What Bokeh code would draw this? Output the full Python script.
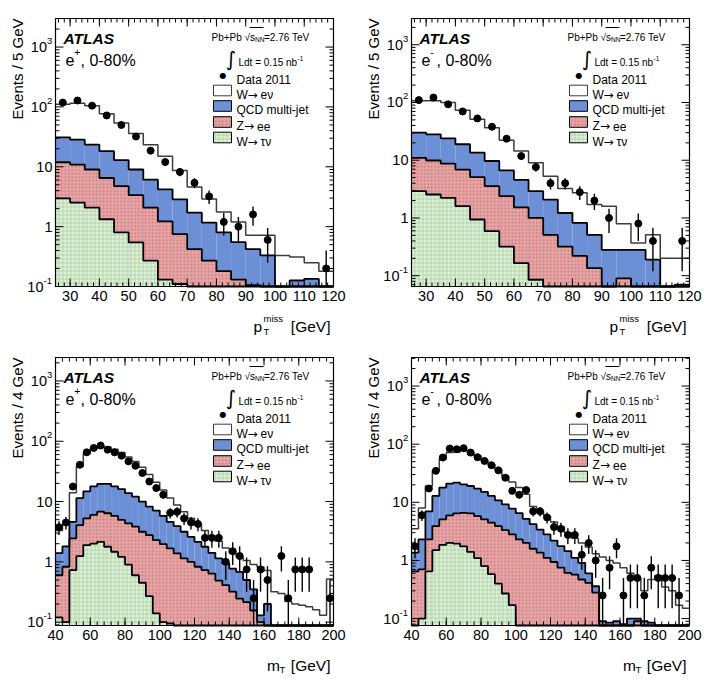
import numpy as np
from bokeh.plotting import figure
from bokeh.layouts import gridplot
from bokeh.models import Range1d, Label, BoxAnnotation
from bokeh.core.properties import value
from bokeh.embed import file_html
from bokeh.resources import INLINE

FONT = "Liberation Sans"

# ---------------- binning ----------------
met_edges = list(range(25, 121, 5))   # missing pT, 5 GeV bins
mt_edges = list(range(40, 201, 4))    # transverse mass, 4 GeV bins

met_major = list(range(30, 121, 10))
met_minor = list(range(26, 121, 2))
mt_major = list(range(40, 201, 20))
mt_minor = list(range(40, 201, 4))

# ---------------- e+ , missing pT ----------------
metp_data = [118, 128, 105, 72, 50, 32, 18.6, 12, 8.2, 5.4, 3.2, 1.2, 1.0, 1.6, 0.6, 0, 0, 0, 0.2]
metp_err = [4.86, 5.06, 4.58, 3.79, 3.16, 2.53, 1.93, 1.55, 1.28, 1.04, 0.8, 0.49, 0.45, 0.57, 0.35, 0, 0, 0, 0.2]
# stacked expectation: W->tau nu | + Z->ee | + QCD | + W->e nu
metp_tau = [2.97, 2.52, 2.08, 1.33, 0.80, 0.545, 0.27, 0.13, 0.11, 0, 0, 0, 0, 0, 0, 0, 0, 0, 0]
metp_zee = [11.9, 10.9, 9.0, 6.5, 4.76, 3.37, 2.08, 1.22, 0.75, 0.42, 0.27, 0.18, 0.13, 0.105, 0, 0, 0, 0, 0]
metp_qcd = [31, 28.4, 23.4, 18.2, 12.9, 9.0, 6.1, 4.2, 2.86, 1.72, 1.17, 0.8, 0.55, 0.42, 0.33, 0, 0.126, 0.134, 0]
metp_tot = [111, 115, 105, 77, 54, 36, 23.4, 15, 8.7, 4.6, 2.9, 1.75, 1.2, 0.72, 0.72, 0.33, 0.31, 0.25, 0.18]

# ---------------- e- , missing pT ----------------
metm_data = [110, 122, 93, 70, 53, 38, 23.6, 11.8, 7.6, 4.0, 4.0, 2.8, 2.0, 1.0, 0, 0.8, 0.4, 0, 0.4]
metm_err = [4.69, 4.94, 4.31, 3.74, 3.26, 2.76, 2.17, 1.54, 1.23, 0.89, 0.89, 0.75, 0.63, 0.45, 0, 0.4, 0.28, 0, 0.28]
metm_tau = [2.91, 2.55, 2.23, 1.6, 0.94, 0.59, 0.32, 0.165, 0.085, 0, 0, 0, 0, 0, 0, 0, 0, 0, 0]
metm_zee = [11.0, 9.9, 8.7, 6.9, 5.1, 3.55, 2.38, 1.53, 1.0, 0.51, 0.32, 0.22, 0.135, 0, 0.09, 0, 0, 0, 0]
metm_qcd = [30.1, 28.1, 24.0, 18.9, 13.5, 9.7, 6.65, 4.58, 2.91, 2.08, 1.22, 0.82, 0.51, 0.28, 0.28, 0.28, 0.19, 0, 0.07]
metm_tot = [107, 107, 100, 73.6, 51.3, 36.7, 22.1, 14.4, 9.05, 5.3, 3.24, 2.72, 1.71, 1.6, 0.79, 0.37, 0.51, 0.2, 0.2]

# ---------------- e+ , transverse mass ----------------
mtp_data = [3.75, 4.5, 17.75, 40.75, 65.5, 77.5, 85, 72.5, 65.5, 57.75,
            46.5, 39.25, 29.75, 21.5, 16.75, 13, 6.5, 6.75, 5.25, 4.5,
            4.25, 2.5, 2.5, 2.5, 1.0, 1.5, 1.25, 0.75, 0.25, 0.75,
            0.5, 0, 1.25, 0.25, 0.75, 0.75, 0.75, 0, 0, 0.25]
mtp_err = [0.97, 1.06, 2.11, 3.19, 4.05, 4.4, 4.61, 4.26, 4.05, 3.8,
           3.41, 3.13, 2.73, 2.32, 2.05, 1.8, 1.27, 1.3, 1.15, 1.06,
           1.03, 0.79, 0.79, 0.79, 0.5, 0.61, 0.56, 0.43, 0.25, 0.43,
           0.35, 0, 0.56, 0.25, 0.43, 0.43, 0.43, 0, 0, 0.25]
mtp_tau = [0.12, 0.1, 0.73, 1.24, 1.9, 2.0, 2.15, 1.78, 1.47, 1.21,
           0.9, 0.6, 0.45, 0.27, 0.14, 0.1, 0.095, 0, 0, 0,
           0, 0, 0, 0, 0, 0, 0, 0, 0, 0,
           0, 0, 0, 0, 0, 0, 0, 0, 0, 0]
mtp_zee = [0.6, 0.83, 2.45, 4.08, 5.28, 6.0, 6.8, 6.4, 5.77, 4.95,
           4.35, 3.83, 3.16, 2.78, 2.3, 1.97, 1.67, 1.38, 1.14, 1.0,
           0.83, 0.73, 0.64, 0.49, 0.41, 0.32, 0.245, 0.215, 0.156, 0.1,
           0, 0, 0, 0, 0, 0, 0, 0, 0, 0]
mtp_qcd = [1.4, 1.8, 4.6, 11.4, 14.7, 17.8, 19.7, 19.7, 17.8, 16.1,
           13.8, 12.1, 10, 8.25, 7.1, 5.8, 4.6, 3.9, 3.16, 2.6,
           2.15, 1.78, 1.41, 1.14, 0.94, 0.77, 0.68, 0.5, 0.35, 0.13,
           0.2, 0, 0, 0, 0, 0, 0, 0, 0, 0]
mtp_tot = [3.3, 4.3, 14, 38, 62, 75, 82, 80, 74, 65,
           55, 46, 37, 28, 21, 15.5, 11.5, 8.8, 6.8, 5.3,
           4.2, 3.3, 2.7, 2.2, 1.7, 1.4, 1.2, 1.05, 0.9, 0.82,
           0.72, 0.32, 0.3, 0.22, 0.2, 0.19, 0.18, 0.16, 0.13, 0.52]

# ---------------- e- , transverse mass ----------------
mtm_data = [1.75, 6.0, 17.25, 34.75, 59, 84.25, 82, 85.25, 71.75, 59.75,
            51.5, 43.5, 35.5, 26.5, 15.75, 13.5, 16.25, 7.0, 7.0, 5.5,
            3.75, 3.5, 2.75, 2.75, 1.25, 2.0, 1.0, 0.25, 0.75, 1.75,
            0.25, 0.5, 0.5, 0.25, 0.75, 0.5, 0.5, 0.5, 0.25, 0]
mtm_err = [0.66, 1.22, 2.08, 2.95, 3.84, 4.59, 4.53, 4.62, 4.24, 3.86,
           3.59, 3.3, 2.98, 2.57, 1.98, 1.84, 2.02, 1.32, 1.32, 1.17,
           0.97, 0.94, 0.83, 0.83, 0.56, 0.71, 0.5, 0.25, 0.43, 0.66,
           0.25, 0.35, 0.35, 0.25, 0.43, 0.35, 0.35, 0.35, 0.25, 0]
mtm_tau = [0, 0.1, 0.65, 1.5, 1.85, 2.0, 1.95, 1.75, 1.4, 1.1,
           0.8, 0.58, 0.4, 0.27, 0.17, 0, 0, 0, 0, 0,
           0, 0, 0, 0, 0, 0, 0, 0, 0, 0,
           0, 0, 0, 0, 0, 0, 0, 0, 0, 0]
mtm_zee = [0.65, 0.7, 2.3, 3.9, 5.1, 5.97, 6.46, 6.6, 6.46, 5.8,
           5.1, 4.46, 3.9, 3.33, 2.81, 2.3, 2.0, 1.59, 1.36, 1.11,
           0.94, 0.75, 0.61, 0.57, 0.47, 0.41, 0.28, 0, 0, 0,
           0, 0, 0.09, 0, 0, 0, 0, 0, 0, 0]
mtm_qcd = [1.36, 2.3, 7, 12.9, 17.9, 21, 21.8, 20.4, 19.1, 17.2,
           15.1, 12.9, 10.8, 9.2, 7.8, 6.5, 5.2, 4.2, 3.4, 2.8,
           2.2, 1.77, 1.45, 1.11, 0.91, 0.6, 0.36, 0.09, 0.085, 0.09,
           0.08, 0.1, 0.1, 0.09, 0.085, 0, 0, 0, 0, 0]
mtm_tot = [3.5, 8, 19, 35, 55, 72, 73, 79, 73, 63,
           53, 45, 36, 28.5, 22.4, 17.9, 13.7, 8.5, 7.0, 5.8,
           4.6, 3.8, 3.0, 2.4, 2.0, 1.7, 1.3, 1.15, 1.0, 0.9,
           0.75, 0.6, 0.5, 0.3, 0.47, 0.55, 0.35, 0.3, 0.17, 0.15]

# legend entries: (before arrow, after arrow); None means no arrow
legend_labels = [("W", "e\u03bd"), ("QCD multi-jet", None), ("Z", "ee"), ("W", "\u03c4\u03bd")]

# y tick labels: (value, base, exponent)
log_major = [(0.1, "10", "-1"), (1, "1", ""), (10, "10", ""), (100, "10", "2"), (1000, "10", "3")]
log_minor = [m * 10.0 ** e for e in range(-2, 4) for m in range(2, 10)]

# ---------------- styling ----------------
BLUE = "#6d8fd6"
PINK = "#e8a4a4"
PINK_DOT = "#b86868"
GREEN = "#dcf0d6"
GREEN_HATCH = "#a6cc9f"

W_FIG, H_FIG = 356, 339          # one panel (the whole canvas is the drawing area)
BL, BT = 55, 18                  # offset of the plot box inside the panel
FW, FH = 278, 268                # plot box size


def put(p, text, dx, dy, size, align="left", baseline="alphabetic", style="normal",
        angle=0.0, font=FONT):
    """Text placed relative to the top-left corner of the plot box (pixels, y down)."""
    p.add_layout(Label(x=BL + dx, y=H_FIG - BT - dy, x_units="screen", y_units="screen",
                       text=text, text_font=font, text_font_size=f"{size}px",
                       text_align=align, text_baseline=baseline,
                       text_font_style=style, angle=angle, text_color="black"))


def box(p, x0, x1, y0, y1, **kw):
    p.add_layout(BoxAnnotation(left=BL + x0, right=BL + x1,
                               top=H_FIG - BT - y0, bottom=H_FIG - BT - y1,
                               left_units="screen", right_units="screen",
                               top_units="screen", bottom_units="screen",
                               fill_alpha=1, line_alpha=1, level="overlay", **kw))


def panel(edges, data, err, tau, zee, qcd, tot, y_lo, y_hi, major, minor,
          ytitle, charge, xvar):
    edges = np.asarray(edges, dtype=float)
    left, right = edges[:-1], edges[1:]
    mid = 0.5 * (left + right)
    x0, x1 = edges[0], edges[-1]

    sx = (x1 - x0) / FW                                   # x data units per pixel
    l0, l1 = np.log10(y_lo), np.log10(y_hi)
    sl = (l1 - l0) / FH                                   # decades per pixel
    xr = Range1d(x0 - BL * sx, x0 + (W_FIG - BL) * sx)
    yr = Range1d(10 ** (l0 - (H_FIG - BT - FH) * sl), 10 ** (l1 + BT * sl))

    p = figure(width=W_FIG, height=H_FIG, x_range=xr, y_range=yr, y_axis_type="log",
               x_axis_location=None, y_axis_location=None,
               output_backend="svg", toolbar_location=None,
               min_border_left=0, min_border_right=0, min_border_top=0, min_border_bottom=0)
    p.grid.visible = False
    p.outline_line_color = None
    p.background_fill_color = "white"
    p.border_fill_color = "white"

    def clip(v):
        return np.maximum(np.asarray(v, dtype=float), y_lo)

    # stacked, filled histogram layers
    p.quad(left=left, right=right, bottom=y_lo, top=clip(qcd),
           fill_color=BLUE, line_color=None)
    p.quad(left=left, right=right, bottom=y_lo, top=clip(zee),
           fill_color=PINK, line_color=None, hatch_pattern="dot",
           hatch_color=PINK_DOT, hatch_scale=3.5, hatch_weight=0.9, hatch_alpha=0.8)
    p.quad(left=left, right=right, bottom=y_lo, top=clip(tau),
           fill_color=GREEN, line_color=None, hatch_pattern="cross",
           hatch_color=GREEN_HATCH, hatch_scale=4, hatch_weight=0.7, hatch_alpha=1.0)

    # histogram outlines
    for vals, col, w in [(tot, "#3c3c3c", 1.5), (qcd, "black", 1.8),
                         (zee, "black", 1.8), (tau, "black", 1.8)]:
        v = clip(vals)
        p.step(x=edges, y=np.append(v, v[-1]), mode="after", line_color=col, line_width=w)

    # plot box
    p.quad(left=x0, right=x1, bottom=y_lo, top=y_hi, fill_color=None,
           line_color="black", line_width=1.2)

    # ticks inside the box on all four sides
    fy = lambda px: 10 ** (px * sl)
    for ticks, L in [(major, 8), (minor, 4)]:
        t = np.array([u for u in ticks if x0 <= u <= x1], dtype=float)
        p.segment(x0=t, y0=y_lo, x1=t, y1=y_lo * fy(L), line_color="black", line_width=1)
        p.segment(x0=t, y0=y_hi, x1=t, y1=y_hi / fy(L), line_color="black", line_width=1)
    ymaj = [u for u, _, _ in log_major]
    for ticks, L in [(ymaj, 8), (log_minor, 4)]:
        t = np.array([u for u in ticks if y_lo * 0.999 <= u <= y_hi], dtype=float)
        p.segment(x0=x0, y0=t, x1=x0 + L * sx, y1=t, line_color="black", line_width=1)
        p.segment(x0=x1, y0=t, x1=x1 - L * sx, y1=t, line_color="black", line_width=1)

    # tick labels
    p.text(x=major, y=[y_lo] * len(major), text=[str(u) for u in major],
           text_font=value(FONT), text_font_size=value("14.5px"), text_color="black",
           text_align="center", text_baseline="top", y_offset=4)
    shown = [(u, b, s) for u, b, s in log_major if y_lo * 0.999 <= u <= y_hi]
    sup_w = {"": 0.0, "2": 5.5, "3": 5.5, "-1": 9.0}
    yv = [u for u, _, _ in shown]
    p.text(x=[x0] * len(shown), y=yv, text=[b for _, b, _ in shown],
           x_offset=[-(3 + sup_w[s]) for _, _, s in shown],
           text_font=value(FONT), text_font_size=value("14.5px"), text_color="black",
           text_align="right", text_baseline="middle")
    sups = [(u, s) for u, _, s in shown if s]
    p.text(x=[x0] * len(sups), y=[u for u, _ in sups], text=[s for _, s in sups],
           x_offset=[-(3 + sup_w[s]) for _, s in sups], y_offset=-6,
           text_font=value(FONT), text_font_size=value("9.5px"), text_color="black",
           text_align="left", text_baseline="middle")

    # data with statistical errors
    d = np.asarray(data, dtype=float)
    e = np.asarray(err, dtype=float)
    m = d > 0
    p.segment(x0=mid[m], y0=np.maximum(d[m] - e[m], y_lo), x1=mid[m], y1=d[m] + e[m],
              line_color="black", line_width=1.4)
    p.scatter(x=mid[m], y=d[m], size=7, marker="circle", fill_color="black",
              line_color="black")

    # axis titles
    put(p, ytitle, -38, 0, 15, align="right", baseline="middle", angle=np.pi / 2)
    if xvar == "met":
        put(p, "p", 198, 308, 15.5)
        put(p, "miss", 208, 300, 9.5)
        put(p, "T", 208, 313, 9.5)
    else:
        put(p, "m", 211.5, 308, 15.5)
        put(p, "T", 224, 312, 9.5)
    put(p, "[GeV]", 275, 308, 15.5, align="right")

    # labels inside the box
    put(p, "ATLAS", 8, 20, 15.5, style="bold italic")
    put(p, "e", 10, 41.5, 16)
    put(p, charge, 18.8, 33.5, 10.5)
    put(p, ", 0-80%", 25, 41.5, 16)

    put(p, "Pb+Pb", 156, 18.5, 10)
    put(p, "\u221a", 189, 18.5, 10)
    put(p, "s", 194.5, 18.5, 10)
    put(p, "NN", 199.5, 20.5, 6.5)
    put(p, "=2.76 TeV", 208.5, 18.5, 10)
    box(p, 194, 208, 8.6, 9.4, fill_color="black", line_color=None)

    put(p, "\u222b", 175.5, 40, 20, align="center", baseline="middle", font="DejaVu Sans")
    put(p, "Ldt = 0.15 nb", 183, 43.5, 10)
    put(p, "-1", 242, 39.5, 6.5)

    put(p, "\u25cf", 167.5, 57, 8, align="center", baseline="middle", font="DejaVu Sans")
    put(p, "Data 2011", 181, 61.3, 12)

    rows = [72, 87.5, 103.5, 119]
    styles = [dict(fill_color="white", line_color="#3c3c3c"),
              dict(fill_color=BLUE, line_color="black"),
              dict(fill_color=PINK, line_color="black", hatch_pattern="dot",
                   hatch_color=PINK_DOT, hatch_scale=3.5, hatch_weight=0.9, hatch_alpha=0.8),
              dict(fill_color=GREEN, line_color="black", hatch_pattern="cross",
                   hatch_color=GREEN_HATCH, hatch_scale=4, hatch_weight=0.7)]
    for r, (head, tail), st in zip(rows, legend_labels, styles):
        box(p, 158, 176, r - 5.3, r + 5.3, line_width=1, **st)
        put(p, head, 181, r + 4.3, 12)
        if tail is not None:
            x_arrow = 181 + (11.0 if head == "W" else 7.5)
            put(p, "\u2192", x_arrow, r + 4.0, 12, font="DejaVu Sans")
            put(p, tail, x_arrow + 13.0, r + 4.3, 12)
    return p


p1 = panel(met_edges, metp_data, metp_err, metp_tau, metp_zee, metp_qcd, metp_tot,
           0.1, 3000, met_major, met_minor, "Events / 5 GeV", "+", "met")
p2 = panel(met_edges, metm_data, metm_err, metm_tau, metm_zee, metm_qcd, metm_tot,
           0.065, 2850, met_major, met_minor, "Events / 5 GeV", "-", "met")
p3 = panel(mt_edges, mtp_data, mtp_err, mtp_tau, mtp_zee, mtp_qcd, mtp_tot,
           0.088, 2450, mt_major, mt_minor, "Events / 4 GeV", "+", "mt")
p4 = panel(mt_edges, mtm_data, mtm_err, mtm_tau, mtm_zee, mtm_qcd, mtm_tot,
           0.076, 3100, mt_major, mt_minor, "Events / 4 GeV", "-", "mt")

grid = gridplot([[p1, p2], [p3, p4]], toolbar_location=None)

open("out.html", "w").write(file_html(grid, INLINE))
